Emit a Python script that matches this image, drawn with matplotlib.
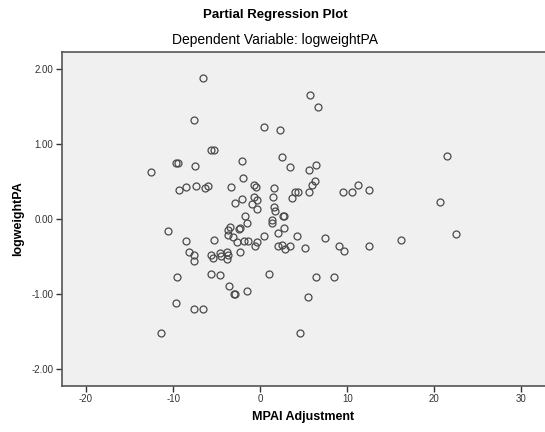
import numpy as np
import matplotlib
matplotlib.use("Agg")
import matplotlib.pyplot as plt

plt.rcParams['font.family'] = ['Liberation Sans', 'DejaVu Sans']
plt.rcParams['axes.unicode_minus'] = False

# MPAI adjustment (x) and logweightPA (y) residuals
mpai = [-6.6, -7.57, 0.46, 2.29, -5.65, -5.28, -2.14, 2.56, 3.44, -9.65,
        -9.45, -7.49, -12.58, -1.99, -9.29, -8.49, -7.34, -6.35, -6.0, -3.36,
        -0.69, -0.49, 1.53, 4.0, 4.3, 3.71, -2.94, -2.06, -0.76, -0.38,
        -0.92, -0.38, 1.45, 1.53, 1.72, 2.63, 2.73, -1.76, 1.3, 5.73,
        6.61, 21.4, 5.62, 6.42, 6.31, 5.96, 5.62, 9.48, 10.5, 11.27,
        12.5, 20.6, -1.46, 1.3, 2.68, -3.44, -3.67, -2.29, -2.44, -3.67,
        -3.13, -2.67, -1.83, -1.38, -0.38, -0.54, 0.46, 1.99, 4.24, 7.45,
        2.06, 2.49, 2.9, 3.41, 5.16, -5.28, -7.65, -7.57, -5.65, -5.42,
        -4.59, -4.51, -3.82, -3.75, -3.82, -2.29, -5.65, -4.59, 1.07, 6.42,
        -3.59, -2.95, -2.85, -1.46, 5.5, -7.57, -6.57, -10.59, -8.49, -8.22,
        -9.6, -9.63, -11.35, 4.55, 9.06, 9.6, 12.47, 16.2, 22.5, 8.52]
logweight = [1.88, 1.32, 1.23, 1.19, 0.92, 0.92, 0.78, 0.83, 0.69, 0.75,
             0.75, 0.71, 0.63, 0.55, 0.39, 0.43, 0.44, 0.42, 0.45, 0.43,
             0.46, 0.43, 0.42, 0.37, 0.37, 0.28, 0.22, 0.27, 0.30, 0.26,
             0.20, 0.14, 0.30, 0.17, 0.11, 0.05, 0.05, 0.04, -0.01, 1.65,
             1.49, 0.84, 0.66, 0.72, 0.51, 0.46, 0.37, 0.36, 0.36, 0.46,
             0.39, 0.23, -0.05, -0.05, -0.11, -0.10, -0.14, -0.11, -0.13, -0.21,
             -0.24, -0.30, -0.29, -0.29, -0.30, -0.36, -0.22, -0.18, -0.22, -0.25,
             -0.36, -0.34, -0.40, -0.36, -0.38, -0.28, -0.47, -0.55, -0.47, -0.52,
             -0.45, -0.49, -0.44, -0.47, -0.53, -0.43, -0.73, -0.74, -0.73, -0.77,
             -0.89, -1.00, -1.00, -0.95, -1.04, -1.19, -1.19, -0.16, -0.29, -0.43,
             -0.77, -1.11, -1.51, -1.51, -0.36, -0.42, -0.35, -0.27, -0.20, -0.77]

xticks = [-20, -10, 0, 10, 20, 30]
yticks = [-2, -1, 0, 1, 2]

fig = plt.figure(figsize=(5.45, 4.32), dpi=100)
fig.patch.set_facecolor('white')
ax = fig.add_axes([0.113, 0.1065, 0.887, 0.7735])
ax.set_facecolor('#f0f0f0')

ax.plot(mpai, logweight, linestyle='none', marker='o', markersize=5,
        markerfacecolor='none', markeredgecolor='#4a4a4a', markeredgewidth=0.9)

ax.set_xlim(-22.8, 32.7)
ax.set_ylim(-2.22, 2.23)
ax.set_xticks(xticks)
ax.set_yticks(yticks)
ax.set_yticklabels(['%.2f' % v for v in yticks])
ax.tick_params(direction='out', length=4, width=1, colors='#333333',
               labelsize=7, pad=2)
for side in ['top', 'left', 'bottom']:
    ax.spines[side].set_color('#555555')
    ax.spines[side].set_linewidth(1.2)
ax.spines['right'].set_visible(False)

ax.set_xlabel('MPAI Adjustment', fontsize=9, fontweight='bold', labelpad=5)
ax.set_ylabel('logweightPA', fontsize=9, fontweight='bold', labelpad=5)

fig.text(0.505, 0.965, 'Partial Regression Plot', ha='center', va='center',
         fontsize=9.5, fontweight='bold')
fig.text(0.505, 0.907, 'Dependent Variable: logweightPA', ha='center',
         va='center', fontsize=10)

plt.savefig('out.png', dpi=100)
